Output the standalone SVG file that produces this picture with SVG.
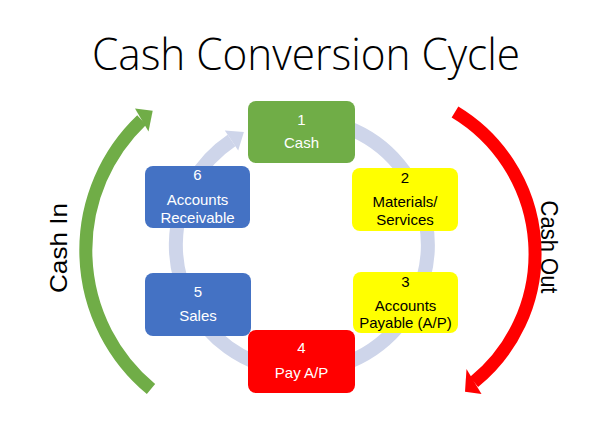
<svg xmlns="http://www.w3.org/2000/svg" width="591" height="441" viewBox="0 0 591 441">
<style>
.box{stroke:none}
.w{fill:#ffffff}
.k{fill:#000000}
.t{font-family:"Liberation Sans",Arial,sans-serif;font-size:15px;text-anchor:middle}
.big{font-family:"Liberation Sans",Arial,sans-serif;font-size:24px;fill:#000;text-anchor:middle}
</style>
<rect width="591" height="441" fill="#ffffff"/>
<text x="306" y="70" font-family="'Open Sans','Liberation Sans',sans-serif" font-weight="300" font-size="44" text-anchor="middle" textLength="428" lengthAdjust="spacingAndGlyphs" fill="#000">Cash Conversion Cycle</text>

<g id="connectors">
  <g id="ring">
    <path d="M291,119.5 A126,126 0 1 1 231.5,140.5" fill="none" stroke="#CED5EA" stroke-width="14"/>
    <polygon points="224.8,130.6 243.9,132.1 238.2,150.4" fill="#CED5EA"/>
  </g>
  <g id="cash-in">
    <path d="M151,389 A180,180 0 0 1 141.7,120" fill="none" stroke="#70AD47" stroke-width="13"/>
    <polygon points="135,108.5 152.7,110.7 148.5,131.5" fill="#70AD47"/>
    <text class="big" transform="translate(67,248) rotate(-90)" textLength="90" lengthAdjust="spacingAndGlyphs">Cash In</text>
  </g>
  <g id="cash-out">
    <path d="M455,112 A165.4,165.4 0 0 1 474,382" fill="none" stroke="#FF0000" stroke-width="13"/>
    <polygon points="466.5,369 465,391.7 481.5,394" fill="#FF0000"/>
    <text class="big" transform="translate(541,247) rotate(90)" textLength="93" lengthAdjust="spacingAndGlyphs">Cash Out</text>
  </g>
</g>

<g id="node1">
  <rect class="box" x="248" y="101" width="107" height="62" rx="8" fill="#70AD47"/>
  <text class="t w" x="301.5" y="125">1</text>
  <text class="t w" x="301.5" y="148">Cash</text>
</g>
<g id="node2">
  <rect class="box" x="352" y="168" width="106" height="63" rx="8" fill="#FFFF00"/>
  <text class="t k" x="405" y="183">2</text>
  <text class="t k" x="405" y="207">Materials/</text>
  <text class="t k" x="405" y="225">Services</text>
</g>
<g id="node3">
  <rect class="box" x="353" y="272" width="105" height="61" rx="8" fill="#FFFF00"/>
  <text class="t k" x="405.5" y="287">3</text>
  <text class="t k" x="405.5" y="311">Accounts</text>
  <text class="t k" x="405.5" y="328">Payable (A/P)</text>
</g>
<g id="node6">
  <rect class="box" x="145" y="166" width="105" height="62" rx="8" fill="#4472C4"/>
  <text class="t w" x="197.5" y="180">6</text>
  <text class="t w" x="197.5" y="205">Accounts</text>
  <text class="t w" x="197.5" y="223">Receivable</text>
</g>
<g id="node5">
  <rect class="box" x="145" y="273" width="106" height="63" rx="8" fill="#4472C4"/>
  <text class="t w" x="198" y="297">5</text>
  <text class="t w" x="198" y="321">Sales</text>
</g>
<g id="node4">
  <rect class="box" x="248" y="330" width="107" height="63" rx="8" fill="#FF0000"/>
  <text class="t w" x="301.5" y="353">4</text>
  <text class="t w" x="301.5" y="378">Pay A/P</text>
</g>
</svg>
